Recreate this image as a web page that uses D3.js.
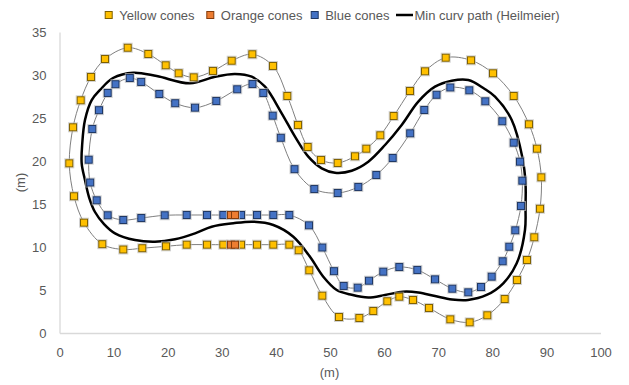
<!DOCTYPE html>
<html>
<head>
<meta charset="utf-8">
<script src="https://cdn.jsdelivr.net/npm/d3@7"></script>
<style>
  html, body { margin: 0; padding: 0; background: #fff; }
  svg { display: block; font-family: "Liberation Sans", Arial, sans-serif; }
</style>
</head>
<body>
<svg id="chart" width="629" height="385"></svg>
<script>
// Outer (yellow) cone positions, metres, in driving order from the start line
const yellowX = [33.55, 36.51, 39.52, 42.48, 44.21, 46.17, 48.58, 51.66, 55.42, 58.0, 60.59, 62.81, 65.34, 68.3, 72.24, 75.82, 79.08, 82.29, 84.57, 86.41, 87.76, 88.82, 89.06, 88.26, 86.78, 83.96, 80.13, 76.06, 71.39, 67.56, 64.79, 61.77, 59.3, 56.71, 54.62, 51.42, 48.34, 45.88, 44.09, 42.11, 39.46, 35.64, 31.83, 28.37, 24.81, 22.03, 19.63, 16.41, 12.61, 8.41, 5.82, 3.92, 2.5, 1.81, 2.68, 4.53, 7.91, 11.79, 15.3, 19.69, 23.51, 27.26, 30.28];
const yellowY = [10.27, 10.27, 10.27, 10.27, 9.62, 7.29, 4.34, 1.86, 1.74, 2.56, 3.69, 4.22, 3.84, 2.91, 1.59, 1.24, 2.06, 3.95, 6.16, 8.49, 11.13, 14.45, 18.1, 21.43, 24.27, 27.56, 30.2, 31.71, 32.01, 30.43, 28.14, 25.23, 22.99, 21.43, 20.55, 19.77, 20.12, 21.63, 24.19, 27.56, 31.05, 32.41, 31.66, 30.47, 29.73, 30.2, 31.13, 32.44, 33.17, 31.86, 29.77, 27.06, 23.92, 19.73, 15.9, 12.83, 10.33, 9.71, 9.86, 10.08, 10.27, 10.27, 10.27];

// Inner (blue) cone positions
const blueX = [33.55, 36.51, 39.52, 42.48, 46.12, 48.58, 50.74, 52.53, 55.12, 57.21, 59.85, 62.81, 66.14, 69.41, 72.61, 75.56, 77.91, 79.89, 81.92, 83.14, 84.25, 85.3, 85.55, 85.12, 83.96, 81.85, 78.71, 75.75, 72.24, 69.69, 67.43, 64.82, 61.59, 58.56, 55.23, 51.42, 47.1, 43.44, 40.91, 39.41, 37.67, 35.67, 32.85, 28.98, 25.05, 21.39, 18.45, 15.1, 13.0, 10.35, 8.91, 7.3, 6.06, 5.4, 5.67, 6.88, 8.91, 11.79, 15.12, 19.45, 23.51, 27.26, 30.28];
const blueY = [13.72, 13.72, 13.72, 13.72, 12.52, 9.94, 7.19, 5.47, 5.27, 6.08, 7.13, 7.67, 7.33, 6.24, 5.15, 4.73, 5.35, 6.55, 8.34, 10.03, 11.94, 14.77, 17.71, 19.92, 22.13, 24.62, 26.94, 28.22, 28.55, 27.7, 25.93, 23.22, 20.35, 18.37, 16.98, 16.28, 16.74, 19.05, 22.7, 25.27, 27.91, 28.95, 28.34, 26.98, 26.2, 26.72, 27.79, 29.19, 29.65, 28.93, 27.91, 25.91, 23.72, 20.15, 17.5, 15.43, 13.69, 13.14, 13.37, 13.69, 13.72, 13.72, 13.72];

// Start-line (orange) cones, one pair on each side
const orangeX = [31.7, 32.44, 31.7, 32.44];
const orangeY = [10.27, 10.27, 13.72, 13.72];

// Minimum-curvature racing line (Heilmeier)
const pathX = [32.13, 35.82, 39.52, 43.22, 46.3, 48.76, 51.24, 54.01, 57.08, 60.17, 63.49, 66.32, 69.41, 72.55, 75.51, 78.96, 82.03, 84.51, 86.04, 86.14, 86.14, 85.58, 83.59, 80.5, 78.47, 75.56, 72.5, 69.41, 66.32, 63.25, 60.17, 57.08, 54.01, 50.92, 48.47, 45.99, 43.53, 41.07, 37.99, 35.53, 32.44, 28.74, 24.12, 17.97, 13.64, 9.89, 7.49, 5.95, 4.71, 4.21, 4.1, 4.71, 5.45, 6.56, 8.23, 10.26, 13.96, 17.65, 21.35, 25.05, 28.13];
const pathY = [12.76, 12.94, 12.56, 11.2, 8.87, 6.55, 5.0, 4.44, 4.13, 4.42, 4.8, 4.71, 4.3, 3.9, 3.84, 4.42, 5.78, 8.1, 11.98, 14.69, 17.41, 20.35, 24.77, 27.48, 28.43, 29.42, 29.34, 28.64, 26.9, 24.19, 21.86, 19.92, 18.87, 18.64, 19.15, 20.5, 22.83, 25.55, 28.64, 29.8, 30.12, 29.8, 29.03, 29.88, 30.27, 29.65, 28.26, 27.09, 24.77, 22.06, 19.73, 17.79, 15.81, 14.07, 12.67, 11.59, 10.81, 10.62, 10.9, 11.59, 12.36];

const xTicks = [0, 10, 20, 30, 40, 50, 60, 70, 80, 90, 100];
const yTicks = [0, 5, 10, 15, 20, 25, 30, 35];

const legendItems = [
  { label: "Yellow cones", kind: "marker", fill: "#FFC000", stroke: "#7F6000" },
  { label: "Orange cones", kind: "marker", fill: "#ED7D31", stroke: "#843C0C" },
  { label: "Blue cones", kind: "marker", fill: "#4472C4", stroke: "#203864" },
  { label: "Min curv path (Heilmeier)", kind: "line", stroke: "#000000" }
];

const svg = d3.select("#chart");
const W = 629, H = 385;
const plot = { left: 59.5, right: 600.5, top: 32, bottom: 333 };

const x = d3.scaleLinear().domain([0, 100]).range([plot.left, plot.right]);
const y = d3.scaleLinear().domain([0, 35]).range([plot.bottom, plot.top]);

const zip = (xs, ys) => xs.map((v, i) => [v, ys[i]]);
const yellow = zip(yellowX, yellowY);
const blue = zip(blueX, blueY);
const orange = zip(orangeX, orangeY);
const path = zip(pathX, pathY);

// Axes
const axisColor = "#D9D9D9";
const textColor = "#595959";

const gx = svg.append("g")
  .attr("transform", `translate(0,${plot.bottom})`)
  .call(d3.axisBottom(x).tickValues(xTicks).tickSize(0).tickPadding(15));
const gy = svg.append("g")
  .attr("transform", `translate(${plot.left},0)`)
  .call(d3.axisLeft(y).tickValues(yTicks).tickSize(0).tickPadding(13));
[gx, gy].forEach(g => {
  g.select(".domain").attr("stroke", axisColor).attr("stroke-width", 1.3);
  g.selectAll("text").attr("fill", textColor).attr("font-size", 13)
    .attr("font-family", '"Liberation Sans", Arial, sans-serif');
});

// Axis titles
svg.append("text")
  .attr("x", (plot.left + plot.right) / 2 - 0.5).attr("y", 377)
  .attr("text-anchor", "middle").attr("fill", textColor).attr("font-size", 13)
  .text("(m)");
svg.append("text")
  .attr("transform", `translate(24.5,${(plot.top + plot.bottom) / 2}) rotate(-90)`)
  .attr("text-anchor", "middle").attr("fill", textColor).attr("font-size", 13)
  .text("(m)");

// Track boundaries through the cones (smooth, closed)
const closedLine = d3.line()
  .x(d => x(d[0])).y(d => y(d[1]))
  .curve(d3.curveCatmullRomClosed.alpha(0.5));

function withStart(pts, startPts) {
  // insert the start-line cones between last and first cone of the loop
  return pts.concat(startPts);
}

svg.append("path")
  .datum(withStart(yellow, orange.slice(0, 2)))
  .attr("d", closedLine)
  .attr("fill", "none").attr("stroke", "#7F7F7F").attr("stroke-width", 1);
svg.append("path")
  .datum(withStart(blue, orange.slice(2, 4)))
  .attr("d", closedLine)
  .attr("fill", "none").attr("stroke", "#7F7F7F").attr("stroke-width", 1);

// Racing line
svg.append("path")
  .datum(path)
  .attr("d", closedLine)
  .attr("fill", "none").attr("stroke", "#000").attr("stroke-width", 2.5)
  .attr("stroke-linejoin", "round");

// Cone markers
const S = 7;
function drawCones(data, fill, stroke) {
  const g = svg.append("g");
  g.selectAll("rect.halo").data(data).join("rect")
    .attr("class", "halo")
    .attr("x", d => x(d[0]) - S / 2 - 1).attr("y", d => y(d[1]) - S / 2 - 1)
    .attr("width", S + 2).attr("height", S + 2)
    .attr("fill", "none").attr("stroke", "#BFBFBF").attr("stroke-width", 1).attr("opacity", 0.7);
  g.selectAll("rect.cone").data(data).join("rect")
    .attr("class", "cone")
    .attr("x", d => x(d[0]) - S / 2).attr("y", d => y(d[1]) - S / 2)
    .attr("width", S).attr("height", S)
    .attr("fill", fill).attr("stroke", stroke).attr("stroke-width", 1);
}
drawCones(yellow, legendItems[0].fill, legendItems[0].stroke);
drawCones(blue, legendItems[2].fill, legendItems[2].stroke);
drawCones(orange, legendItems[1].fill, legendItems[1].stroke);

// Legend
const legendX = [108.7, 210.3, 314.7, 396];
const lg = svg.append("g");
legendItems.forEach((it, i) => {
  const cx = legendX[i], cy = 15;
  let tx;
  if (it.kind === "marker") {
    lg.append("rect")
      .attr("x", cx - S / 2).attr("y", cy - S / 2).attr("width", S).attr("height", S)
      .attr("fill", it.fill).attr("stroke", it.stroke).attr("stroke-width", 1);
    tx = cx + 10.5;
  } else {
    lg.append("line")
      .attr("x1", cx).attr("x2", cx + 17).attr("y1", cy).attr("y2", cy)
      .attr("stroke", it.stroke).attr("stroke-width", 2.5);
    tx = cx + 18.5;
  }
  lg.append("text")
    .attr("x", tx).attr("y", cy + 4.7)
    .attr("fill", textColor).attr("font-size", 13)
    .text(it.label);
});
</script>
</body>
</html>
